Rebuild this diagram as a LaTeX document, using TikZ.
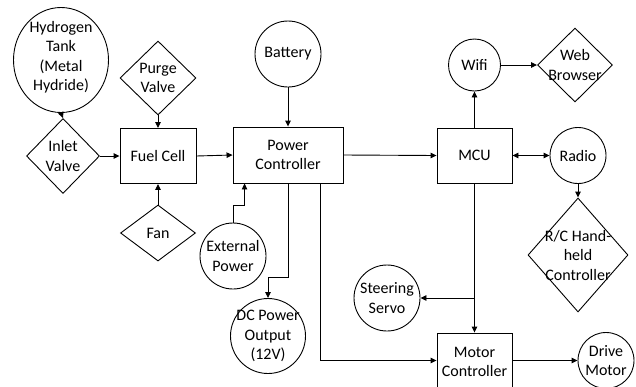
\documentclass[tikz,border=0pt]{standalone}
\usepackage{fontspec}
\setmainfont{Carlito}
\usetikzlibrary{shapes.geometric,arrows.meta,calc}
\begin{document}
\begin{tikzpicture}[x=1pt,y=-1pt,
  every node/.style={font=\fontsize{16}{19.5}\selectfont, align=center, inner sep=0pt},
  shp/.style={draw, line width=0.9pt},
  boxs/.style={shp, rectangle},
  circs/.style={shp, circle},
  ells/.style={shp, ellipse},
  dias/.style={shp, diamond},
  lbl/.style={text=black},
  arr/.style={line width=0.9pt, -{Triangle[length=6pt,width=5.5pt]}},
  arrb/.style={line width=0.9pt, {Triangle[length=6pt,width=5.5pt]}-{Triangle[length=6pt,width=5.5pt]}}
]
\useasboundingbox (0,0) rectangle (636,386);
\clip (0,0) rectangle (636,386);
% shapes
\node[ells, minimum width=95pt, minimum height=105pt] (tank) at (61,60) {};
\node[dias, minimum width=73pt, minimum height=75pt] (inlet) at (63,156) {};
\node[boxs, minimum width=76pt, minimum height=55pt] (fuel) at (158,156) {};
\node[dias, minimum width=76pt, minimum height=74pt] (purge) at (158,78) {};
\node[dias, minimum width=75pt, minimum height=56pt] (fan) at (158,233) {};
\node[circs, minimum size=66pt] (bat) at (288,54) {};
\node[boxs, minimum width=110pt, minimum height=56pt] (pc) at (288,155) {};
\node[boxs, minimum width=75pt, minimum height=55pt] (mcu) at (474.5,155.5) {};
\node[circs, minimum size=52pt] (wifi) at (474.5,65) {};
\node[dias, minimum width=75pt, minimum height=74pt] (web) at (575,65) {};
\node[circs, minimum size=56pt] (radio) at (578,155.5) {};
\node[dias, minimum width=100pt, minimum height=114pt] (rc) at (578,255) {};
\node[circs, minimum size=66pt] (servo) at (387,298) {};
\node[boxs, minimum width=75pt, minimum height=55pt] (mc) at (474.5,360.5) {};
\node[circs, minimum size=56pt] (drive) at (606,360.5) {};
\node[circs, minimum size=75pt] (dc) at (268,336) {};
\node[circs, minimum size=66pt] (ext) at (233,256) {};
% labels
\node[lbl] (tankT) at (61,57) {Hydrogen\\Tank\\(Metal\\Hydride)};
\node[lbl] (inletT) at (inlet) {Inlet\\Valve};
\node[lbl] (fuelT) at (fuel) {Fuel Cell};
\node[lbl] (purgeT) at (purge) {Purge\\Valve};
\node[lbl] (fanT) at (fan) {Fan};
\node[lbl] (batT) at (bat) {Battery};
\node[lbl] (pcT) at (pc) {Power\\Controller};
\node[lbl] (mcuT) at (mcu) {MCU};
\node[lbl] (wifiT) at (wifi) {Wifi};
\node[lbl] (webT) at (web) {Web\\Browser};
\node[lbl] (radioT) at (radio) {Radio};
\node[lbl] (rcT) at (rc) {R/C Hand-\\held\\Controller};
\node[lbl] (servoT) at (servo) {Steering\\Servo};
\node[lbl] (mcT) at (474.5,362) {Motor\\Controller};
\node[lbl] (driveT) at (drive) {Drive\\Motor};
\node[lbl] (dcT) at (dc) {DC Power\\Output\\(12V)};
\node[lbl] (extT) at (ext) {External\\Power};
% connectors
\draw[arr] (tank.south) -- (inlet.north);
\draw[arr] (inlet.east) -- (fuel.west);
\draw[arr] (purge.south) -- (fuel.north);
\draw[arr] (fan.north) -- (fuel.south);
\draw[arr] (fuel.east) -- (pc.west);
\draw[arr] (bat.south) -- (pc.north);
\draw[arr] (pc.east) -- (mcu.west);
\draw[arr] (mcu.north) -- (wifi.south);
\draw[arr] (wifi.east) -- (web.west);
\draw[arrb] (mcu.east) -- (radio.west);
\draw[arr] (radio.south) -- (rc.north);
\draw[arr] (mcu.south) -- (mc.north);
\coordinate (br) at (mcu.south |- servo.east);
\draw[arr] (br) -- (servo.east);
\draw[arr] ([xshift=32pt]pc.south) |- (mc.west);
\draw[arr] (mc.east) -- (drive.west);
\draw[arr] (pc.south) -- ++(0,94) -| (dc.north);
\coordinate (extup) at (233,205);
\draw[arr] (ext.north) -- (extup) -| ([xshift=12pt]pc.south west);
\end{tikzpicture}
\end{document}
